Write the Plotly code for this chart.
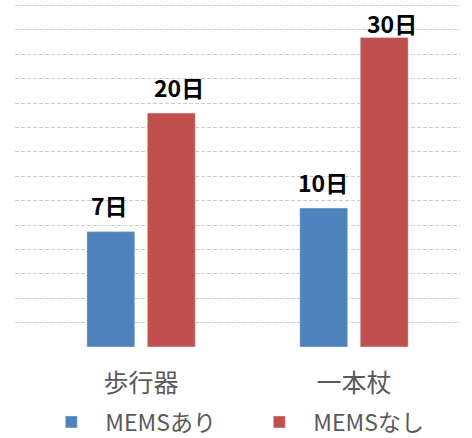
import plotly.graph_objects as go

categories = ["歩行器", "一本杖"]
series_names = ["MEMSあり", "MEMSなし"]
# bar heights as drawn in the picture (grid units; chart is not to scale)
heights_with = [4.73, 5.70]
heights_without = [9.59, 12.69]
labels_with = ["7日", "10日"]
labels_without = ["20日", "30日"]

colors = ["#4f81bd", "#c0504d"]
font_family = "Noto Sans CJK JP"

Y_TOP = 14
LABEL_OFFSET = 1.08      # label centre above bar top (axis units)
LABEL_MAX = 13.28        # labels are kept inside the plot area
LABEL_XSHIFT = [-1, 8]   # horizontal nudge per series, px

fig = go.Figure()
series = [
    (series_names[0], heights_with, labels_with, colors[0]),
    (series_names[1], heights_without, labels_without, colors[1]),
]
for si, (name, vals, labs, col) in enumerate(series):
    fig.add_trace(go.Bar(
        x=categories, y=vals, name=name, marker_color=col,
        hoverinfo="skip", offsetgroup=str(si),
    ))

# value labels: placed over each bar of the grouped layout
n_series = len(series)
bargap, bargroupgap = 0.432, 0.207
slot = (1 - bargap) / n_series
for si, (name, vals, labs, col) in enumerate(series):
    offset = -(1 - bargap) / 2 + slot * (si + 0.5)
    for ci, (v, lab) in enumerate(zip(vals, labs)):
        fig.add_annotation(
            x=ci + offset, y=min(v + LABEL_OFFSET, LABEL_MAX),
            xref="x", yref="y", text=lab, showarrow=False,
            xanchor="center", yanchor="middle", xshift=LABEL_XSHIFT[si],
            font=dict(family=font_family, size=23, color="#000000", weight="bold"),
        )

fig.update_layout(
    width=472, height=438,
    margin=dict(l=15, r=12, t=3, b=91, autoexpand=False),
    paper_bgcolor="white", plot_bgcolor="white",
    barmode="group", bargap=bargap, bargroupgap=bargroupgap,
    font=dict(family=font_family, color="#595959"),
    showlegend=True,
    legend=dict(orientation="h", xref="container", yref="container",
                x=0.079, xanchor="left", y=1 - 422 / 438, yanchor="middle",
                font=dict(size=23, color="#595959"), itemwidth=58,
                entrywidth=135, entrywidthmode="pixels",
                traceorder="normal", itemclick=False),
    xaxis=dict(range=[-0.592, 1.498], showgrid=False, showline=False, ticks="",
               tickfont=dict(size=25, color="#595959"), ticklabelstandoff=19,
               fixedrange=True),
    yaxis=dict(range=[0, Y_TOP + 0.1], dtick=1, showgrid=True, gridcolor="#cccccc",
               griddash="4px,2px", gridwidth=1, zeroline=False, showticklabels=False,
               showline=False, ticks="", fixedrange=True),
)

fig.write_html("out.html", post_script="document.body.style.margin='0';",
               config={"displayModeBar": False})
